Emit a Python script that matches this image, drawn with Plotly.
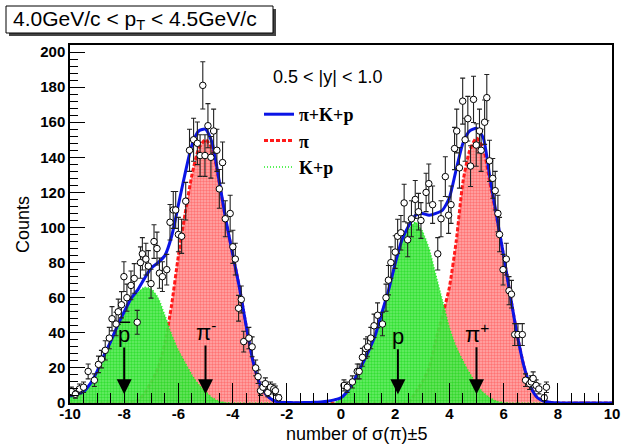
import numpy as np
import plotly.graph_objects as go

# ---------------- data ----------------
# measured histogram points (x = number of sigma(pi) +/- 5, y = counts)
data_x = [-9.95, -9.8, -9.65, -9.5, -9.33, -9.1, -8.95, -8.84, -8.7, -8.55, -8.45, -8.3,
          -8.22, -8.1, -8.01, -7.9, -7.75, -7.63, -7.52, -7.4, -7.33, -7.2, -7.11, -7.01,
          -6.9, -6.79, -6.7, -6.59, -6.43, -6.31, -6.19, -6.1, -6.0, -5.88, -5.73, -5.59,
          -5.44, -5.3, -5.2, -5.1, -5.02, -4.91, -4.8, -4.7, -4.58, -4.49, -4.37, -4.27,
          -4.09, -3.99, -3.9, -3.78, -3.68, -3.59, -3.4, -3.28, -3.15, -3.06, -2.97, -2.88,
          -2.79, -2.7, -2.6, -2.48, -2.42, -2.3,
          0.11, 0.23, 0.42, 0.6, 0.67, 0.79, 0.91, 0.98, 1.1, 1.22, 1.35, 1.53, 1.66, 1.75,
          1.84, 2.0, 2.09, 2.21, 2.33, 2.46, 2.6, 2.74, 2.86, 2.95, 3.14, 3.24, 3.38, 3.57,
          3.69, 3.85, 3.97, 4.06, 4.19, 4.27, 4.37, 4.49, 4.58, 4.68, 4.78, 4.89, 4.99, 5.11,
          5.17, 5.3, 5.38, 5.48, 5.6, 5.69, 5.79, 5.85, 5.98, 6.1, 6.2, 6.29, 6.41, 6.53,
          6.69, 6.81, 6.96, 7.02, 7.09, 7.2, 7.3, 7.5, 7.58]
data_y = [6.5, 5, 8, 9, 18, 13, 22, 25, 30, 37, 48, 45,
          52, 56, 72, 60, 67, 71, 46, 80, 85, 82, 78, 68,
          92, 88, 74, 72, 76, 103, 110, 110, 96, 95, 115, 144,
          150, 148, 141, 181, 141, 158, 140, 155, 144, 122, 137, 105,
          108, 89, 82, 54, 59, 35, 37, 32, 20, 15, 7, 9,
          11, 6, 9, 8, 7, 3,
          10, 9, 12, 18, 18, 26, 31, 32, 37, 44, 50, 45, 60, 70,
          80, 86, 95, 97, 114, 93, 105, 116, 109, 104, 120, 125, 113, 85,
          105, 129, 107, 113, 145, 155, 134, 172, 150, 162, 135, 173, 147, 155,
          144, 160, 174, 138, 128, 121, 108, 96, 76, 82, 64, 62, 39, 39,
          39, 13, 11, 12, 14, 10, 8, 3, 9]

# fitted curves, read at these abscissae
curve_x = [-10.0, -9.75, -9.5, -9.25, -9.0, -8.75, -8.5, -8.25, -8.0, -7.75, -7.5, -7.25,
           -7.0, -6.75, -6.5, -6.25, -6.0, -5.75, -5.5, -5.25, -5.0, -4.75, -4.5, -4.25,
           -4.0, -3.75, -3.5, -3.25, -3.0, -2.75, -2.5, -2.25, -2.0, -1.75, -1.5, -1.25,
           -1.0, -0.75, -0.5, -0.25, 0.0, 0.25, 0.5, 0.75, 1.0, 1.25, 1.5, 1.75,
           2.0, 2.25, 2.5, 2.75, 3.0, 3.25, 3.5, 3.75, 4.0, 4.25, 4.5, 4.75,
           5.0, 5.25, 5.5, 5.75, 6.0, 6.25, 6.5, 6.75, 7.0, 7.25, 7.5, 7.75,
           8.0, 8.25, 8.5, 8.75, 9.0, 9.25, 9.5, 9.75, 10.0]
pi_fit = [0, 0, 0, 0, 0, 0, 0, 0, 0.2, 0.6, 1.5, 5.5,
          12, 20, 34, 56, 84, 108, 130, 145, 150, 145, 126, 104,
          85, 66, 44, 24, 11, 4.5, 1.5, 0.5, 0.2, 0, 0, 0,
          0, 0, 0, 0, 0, 0, 0, 0, 0, 0, 0, 0,
          0, 0, 0.5, 6, 12, 20, 36, 50, 66, 92, 126, 144,
          151, 145, 125, 105, 84, 61, 39, 21, 9, 3, 1, 0.3,
          0, 0, 0, 0, 0, 0, 0, 0, 0]
kp_fit = [3.5, 4.5, 6, 10, 18, 27, 35, 44, 52, 59, 63, 66,
          65, 60, 50, 39, 30, 23, 16, 10.5, 6.5, 3, 1, 0.3,
          0, 0, 0, 0, 0, 0, 0, 0, 0, 0, 0, 0,
          0, 0, 0, 0, 3, 7, 13.5, 21, 29, 38, 51, 64,
          79, 92, 99, 103, 98, 88, 73, 58, 43, 32, 24, 17,
          10.5, 6, 3, 1, 0.3, 0, 0, 0, 0, 0, 0, 0,
          0, 0, 0, 0, 0, 0, 0, 0, 0]
total_fit = [4, 5, 6.5, 11, 18, 27, 35, 44, 52, 59.5, 64.5, 71,
             77, 80, 84, 95, 113, 131, 147, 155, 156, 148, 127, 104.5,
             85, 66, 44, 24, 11, 4.5, 1.5, 0.5, 0.3, 0.2, 0.2, 0.3,
             0.4, 0.6, 1, 1.8, 3, 7, 13.5, 21, 29, 38, 51, 64,
             79.5, 93, 101, 107, 108, 107, 108, 110, 117, 133, 148, 155,
             156.5, 151, 128, 106, 84, 61, 39, 21, 9, 3, 1, 0.3,
             0.1, 0, 0, 0, 0, 0, 0, 0, 0]

x_tickvals = [-10, -8, -6, -4, -2, 0, 2, 4, 6, 8, 10]
x_ticktext = ["-10", "-8", "-6", "-4", "-2", "0", "2", "4", "6", "8", "10"]
y_tickvals = [0, 20, 40, 60, 80, 100, 120, 140, 160, 180, 200]
y_ticktext = ["0", "20", "40", "60", "80", "100", "120", "140", "160", "180", "200"]

# arrows with their labels (first one is anti-proton: "p" with an overbar)
arrow_x = [-8.0, -5.0, 2.1, 5.0]
arrow_labels = ["p", "π<sup>-</sup>", "p", "π<sup>+</sup>"]
label_y = [39, 41, 38, 40]
overbar_x = [-8.17, -7.78]
overbar_y = 46

# ---------------- layout geometry ----------------
W, H = 641, 447
L, R, T, B = 70, 612, 45, 403
PW, PH = R - L, B - T


def fx(p):
    return (p - L) / PW


def fy(p):
    return (B - p) / PH


SANS = "Liberation Sans, Arial, Helvetica, sans-serif"
SERIF = "Liberation Serif, Times New Roman, serif"

RED = "#ff1a1a"
GREEN = "#22ee22"
BLUE = "#0a14e6"

fig = go.Figure()

fig.add_trace(go.Scatter(
    x=curve_x, y=pi_fit, mode="lines", showlegend=False,
    line=dict(color=RED, width=3, dash="4px,2px", shape="spline", smoothing=0.6),
    fill="tozeroy",
    fillpattern=dict(shape=".", bgcolor="rgba(255,170,170,1)", fgcolor="rgba(255,60,60,1)",
                     size=3, solidity=0.5),
    hoverinfo="skip"))

fig.add_trace(go.Scatter(
    x=curve_x, y=kp_fit, mode="lines", showlegend=False,
    line=dict(color=GREEN, width=1.5, dash="1px,2px", shape="spline", smoothing=0.6),
    fill="tozeroy",
    fillpattern=dict(shape=".", bgcolor="rgba(90,235,90,0.9)", fgcolor="rgba(0,210,0,1)",
                     size=3, solidity=0.5),
    hoverinfo="skip"))

fig.add_trace(go.Scatter(
    x=curve_x, y=total_fit, name="<b>π+K+p</b>", mode="lines",
    line=dict(color=BLUE, width=3, shape="spline", smoothing=0.6),
    legendrank=1, hoverinfo="skip"))

# legend-only entries (line samples as in the reference legend)
fig.add_trace(go.Scatter(x=[None], y=[None], mode="lines", name="<b>π</b>",
                         line=dict(color=RED, width=3, dash="4px,2px"), legendrank=2))
fig.add_trace(go.Scatter(x=[None], y=[None], mode="lines", name="<b>K+p</b>",
                         line=dict(color=GREEN, width=1.5, dash="1px,2px"), legendrank=3))

fig.add_trace(go.Scatter(
    x=data_x, y=data_y, mode="markers", showlegend=False,
    marker=dict(symbol="circle", size=6.5, color="white", line=dict(color="black", width=1)),
    error_y=dict(type="data", array=np.sqrt(np.array(data_y)), color="#222222",
                 thickness=1.1, width=2.5),
    hoverinfo="skip"))

shapes = [
    dict(type="rect", xref="paper", yref="paper", x0=fx(9), x1=fx(276), y0=fy(36), y1=fy(9),
         fillcolor="#444444", line=dict(width=0), layer="above"),
    dict(type="rect", xref="paper", yref="paper", x0=fx(6), x1=fx(273), y0=fy(33), y1=fy(6),
         fillcolor="white", line=dict(color="black", width=1), layer="above"),
    dict(type="line", xref="x", yref="y", x0=overbar_x[0], x1=overbar_x[1],
         y0=overbar_y, y1=overbar_y, line=dict(color="black", width=1.5), layer="above"),
]

annotations = [
    dict(x=fx(11), y=fy(20), xref="paper", yref="paper", xanchor="left", yanchor="middle",
         text="4.0GeV/c < p<sub>T</sub> < 4.5GeV/c", showarrow=False,
         font=dict(family=SANS, size=21, color="black")),
    dict(x=fx(327), y=fy(77), xref="paper", yref="paper", xanchor="center", yanchor="middle",
         text="0.5 < |y| < 1.0", showarrow=False, font=dict(family=SANS, size=18, color="black")),
    dict(x=fx(356), y=fy(434), xref="paper", yref="paper", xanchor="center", yanchor="middle",
         text="number of σ(π)±5", showarrow=False, font=dict(family=SANS, size=18, color="black")),
    dict(x=fx(23), y=fy(225), xref="paper", yref="paper", xanchor="center", yanchor="middle",
         text="Counts", textangle=-90, showarrow=False,
         font=dict(family=SANS, size=18, color="black")),
]
for ax_, ly, lab in zip(arrow_x, label_y, arrow_labels):
    annotations.append(dict(x=ax_, y=5, ax=ax_, ay=ly, xref="x", yref="y", axref="x", ayref="y",
                            showarrow=True, arrowhead=2, arrowsize=1.5, arrowwidth=2,
                            arrowcolor="black", text=lab, borderpad=0,
                            font=dict(family=SANS, size=22, color="black")))

fig.update_layout(
    width=W, height=H,
    margin=dict(l=L, r=W - R, t=T, b=H - B, pad=0),
    paper_bgcolor="white", plot_bgcolor="white",
    font=dict(family=SANS, color="black"),
    shapes=shapes, annotations=annotations,
    showlegend=True,
    legend=dict(x=fx(259), y=fy(96), xanchor="left", yanchor="top",
                bgcolor="rgba(0,0,0,0)", borderwidth=0,
                font=dict(family=SERIF, size=18, color="black"),
                tracegroupgap=0, itemwidth=30),
    xaxis=dict(range=[-10, 10], showgrid=False, zeroline=False,
               showline=True, linecolor="black", linewidth=1.5, mirror=True,
               ticks="inside", ticklen=20, tickwidth=1, tickcolor="black",
               tickvals=x_tickvals, ticktext=x_ticktext, ticklabelstandoff=-4,
               tickfont=dict(family=SANS, size=15, color="black", weight="bold"),
               minor=dict(dtick=0.5, ticks="inside", ticklen=10, tickcolor="black", tickwidth=1)),
    yaxis=dict(range=[0, 204], showgrid=False, zeroline=False,
               showline=True, linecolor="black", linewidth=1.5, mirror=True,
               ticks="inside", ticklen=15, tickwidth=1, tickcolor="black",
               tickvals=y_tickvals, ticktext=y_ticktext,
               tickfont=dict(family=SANS, size=15, color="black", weight="bold"),
               minor=dict(dtick=4, ticks="inside", ticklen=8, tickcolor="black", tickwidth=1)),
)

fig.write_html("out.html")
